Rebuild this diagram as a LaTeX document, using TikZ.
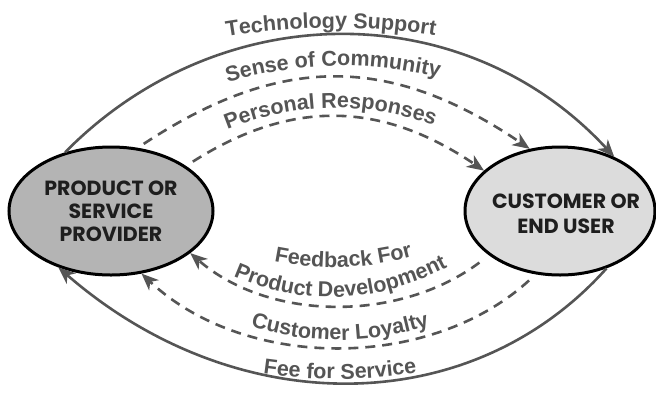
\documentclass[tikz,border=0pt]{standalone}
\usepackage{fontspec}
\setmainfont{Liberation Sans}
\newfontfamily\partyfont{Poppins}
\newcommand\arcfont{\bfseries\fontsize{21.5}{24}\selectfont}
\usetikzlibrary{arrows.meta,decorations.text,shapes.geometric}
\definecolor{ink}{HTML}{555555}
\definecolor{provfill}{HTML}{B4B4B4}
\definecolor{custfill}{HTML}{DCDCDC}
\definecolor{boxtext}{HTML}{1E1E1E}

\begin{document}
\begin{tikzpicture}[x=1pt,y=1pt,
  party/.style={ellipse, draw=black, line width=3pt, inner sep=0pt, minimum height=128pt},
  partytext/.style={font=\partyfont\bfseries\fontsize{20.5}{#1}\selectfont, text=boxtext, align=center, inner sep=0pt},
  flow/.style={draw=ink, line width=2.6pt, -{Stealth[length=17pt,width=14pt,inset=5pt]}},
  soft/.style={flow, dash pattern=on 10pt off 7pt},
  arclabel/.style={decorate, decoration={text along path, text align=center, text color=ink, text={|\arcfont|#1}}}
]
\fill[white] (0,-392) rectangle (656,0);
\useasboundingbox (0,-392) rectangle (656,0);

% the two parties
\node[party, fill=provfill, minimum width=204pt, partytext=23pt] (prov) at (111,-211)
  {PRODUCT OR\\SERVICE\\PROVIDER};
\node[party, fill=custfill, minimum width=190pt] (cust) at (560,-211) {};
\node[partytext=25pt] (custlabel) at (566,-214) {CUSTOMER OR\\END USER};

% provider to customer
\draw[flow] (prov.128) .. controls (220,5) and (465,5) .. (cust.45);
\draw[soft, shorten <=7pt] (prov.67) .. controls (280,-54) and (390,-54) .. (cust.116);
\draw[soft, shorten <=8pt] (prov.31) .. controls (290,-100) and (380,-100) .. (cust.152);

% customer to provider
\draw[soft, shorten <=12pt] (cust.212) .. controls (400,-322) and (270,-322) .. (prov.-28);
\draw[soft, shorten <=9pt] (cust.249) .. controls (430,-371) and (245,-371) .. (prov.-64);
\draw[flow] (cust.-51) .. controls (470,-421) and (235,-421) .. (prov.227);

% curved labels, each set along its own baseline
\path[arclabel={Technology Support}] (175,-47.6) .. controls (279,-21.9) and (383,-21.4) .. (487,-46.0);
\path[arclabel={Sense of Community}] (182,-98) .. controls (283,-57.7) and (384,-55.4) .. (485,-91.2);
\path[arclabel={Personal Responses}] (182,-151.8) .. controls (281.3,-95.1) and (380.7,-93.3) .. (480,-146.4);
\path[arclabel={Feedback For}] (228,-248.4) .. controls (304.7,-275.9) and (381.3,-273.3) .. (458,-240.8);
\path[arclabel={Product Development}] (200,-258.8) .. controls (293.3,-313.5) and (386.7,-309.8) .. (480,-247.8);
\path[arclabel={Customer Loyalty}] (205,-309.4) .. controls (295,-350.7) and (385,-350.2) .. (475,-308);
\path[arclabel={Fee for Service}] (218,-365.3) .. controls (299.3,-384) and (380.7,-383.5) .. (462,-363.9);
\end{tikzpicture}
\end{document}
